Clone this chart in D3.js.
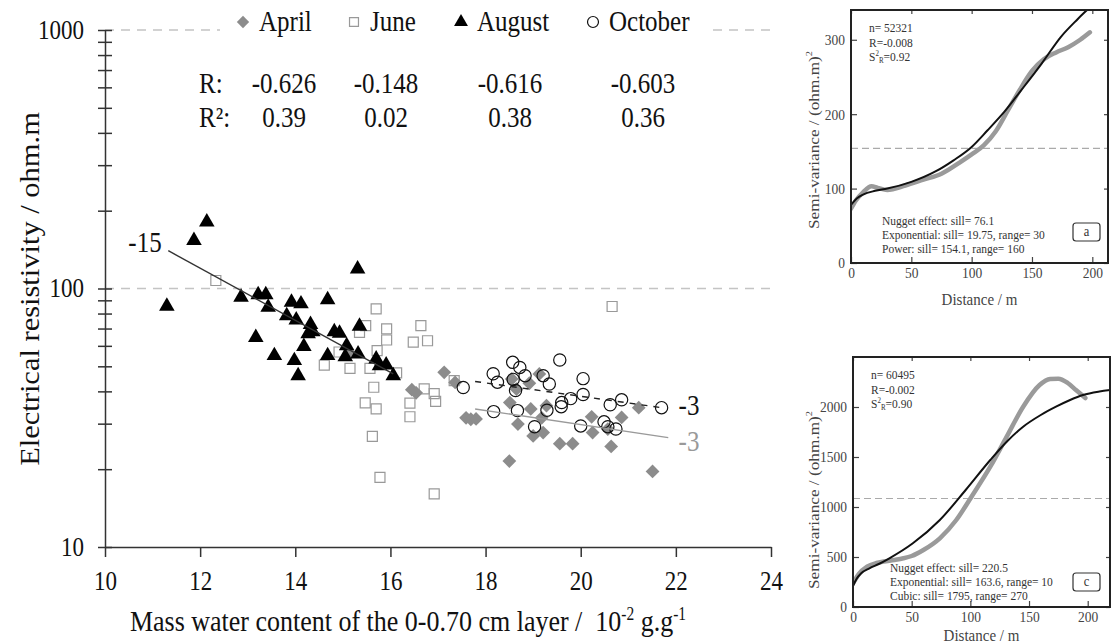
<!DOCTYPE html>
<html>
<head>
<meta charset="utf-8">
<title>Resistivity vs water content</title>
<script src="https://cdn.jsdelivr.net/npm/d3@7/dist/d3.min.js"></script>
<style>
  body { margin: 0; background: #fff; }
  svg text { font-family: "Liberation Serif", "Times New Roman", serif; }
</style>
</head>
<body>
<div id="chart"></div>
<script>
// scatter data: [mass water content (10^-2 g/g), resistivity (ohm.m)]
const aprilPts = [
  [15.15,56],[16.45,40.6],[16.54,39.5],[17.13,47.4],[17.36,43.3],[17.59,31.6],[17.69,31.2],[17.80,31.3],
  [18.51,36.2],[18.55,44.7],[18.65,40.8],[18.68,29.9],[18.50,21.5],[18.92,43],[18.95,34.2],[19.13,46.7],
  [19.00,26.9],[19.21,27.7],[19.28,35.2],[19.18,31.6],[19.56,25.1],[19.83,25.1],[20.23,31.9],[20.25,27.7],
  [20.57,28.6],[20.64,24.5],[20.86,31.7],[21.22,34.6],[21.51,19.6]
];
const junePts = [
  [12.33,107.4],[15.70,83.4],[15.48,71.9],[15.35,67.7],[15.92,69.8],[15.92,63.2],[16.64,71.9],[16.48,62],
  [16.78,62.8],[14.92,56.8],[15.72,57.5],[14.61,50.5],[15.15,49.1],[15.57,49.1],[16.13,47.2],[15.65,41.5],
  [15.47,36.1],[15.70,34.2],[16.71,40.9],[16.92,39.2],[16.95,36.6],[16.41,36],[16.41,31.9],[17.34,44],
  [15.62,26.8],[15.78,18.6],[16.92,16.05],[20.66,85.2]
];
const augustPts = [
  [12.14,180.7],[11.87,153.5],[11.30,85.3],[12.86,92.5],[13.22,94.6],[13.38,94.6],[13.43,84.6],[13.17,64.7],
  [13.56,55],[13.92,88.5],[14.12,87.2],[13.82,78.5],[14.02,75.6],[14.32,72.5],[14.27,66.8],[14.18,59.6],
  [13.98,52.6],[14.06,46],[14.68,90.4],[15.31,119],[15.35,71.4],[14.82,68.1],[14.93,67.1],[15.08,60.1],
  [15.05,54.5],[14.68,55],[15.32,55.8],[15.70,53.4],[15.77,50.3],[15.91,50.6],[16.06,46],[14.37,68]
];
const octoberPts = [
  [17.53,41.4],[18.16,46.8],[18.25,43.4],[18.57,51.8],[18.72,49.5],[18.58,44.5],[18.83,46],[18.63,40.3],
  [19.21,46],[19.34,42.7],[19.56,52.9],[20.05,44.8],[19.60,36.2],[19.59,34.9],[19.79,37.5],[20.05,38.9],
  [20.62,35.5],[20.86,37.1],[21.70,34.6],[18.17,33.4],[18.67,33.7],[19.29,33.8],[19.03,29.2],[20.00,29.4],
  [20.49,30.5],[20.57,29.2],[20.74,28.6]
];

// regression lines, end points
const augustFit = [[11.33,140],[16.06,46.7]];
const aprilFit = [[17.78,34.2],[21.84,26.5]];
const octoberFit = [[17.78,43.7],[21.70,34.6]];

const seriesNames = ["April", "June", "August", "October"];
const corrR = ["-0.626", "-0.148", "-0.616", "-0.603"];
const corrR2 = ["0.39", "0.02", "0.38", "0.36"];
const xTicks = [10, 12, 14, 16, 18, 20, 22, 24];
const yMajor = [10, 100, 1000];

// semivariograms: [distance m, semi-variance]
const semivarAExp = [[0,73],[4,84],[10,95],[17,103],[22,101],[30,98],[45,104],[60,112],[75,120],[90,135],
  [100,146],[110,158],[120,177],[130,205],[140,233],[150,258],[160,274],[170,283],[180,290],[190,300],[198,310]];
const semivarAModel = [[0,78],[5,87],[10,92],[20,97],[30,100],[50,109],[70,123],[85,138],[100,156],[113,178],
  [127,203],[141,232],[158,268],[174,304],[188,328],[200,347],[213,370]];
const semivarCExp = [[0,237],[5,330],[12,403],[20,440],[26,455],[35,470],[43,487],[50,510],[60,570],[74,687],
  [88,870],[101,1103],[117,1403],[131,1703],[145,2003],[159,2220],[168,2280],[175,2283],[183,2240],[190,2170],[198,2090]];
const semivarCModel = [[0,210],[3,280],[7,337],[14,387],[22,430],[31,487],[51,637],[74,870],[96,1170],[117,1470],
  [131,1653],[145,1803],[160,1920],[173,2003],[185,2070],[196,2120],[210,2155],[219,2170]];
const sillA = 154.1;
const sillC = 1085;
const infoA = ["n= 52321", "R=-0.008", "0.92"];
const infoC = ["n= 60495", "R=-0.002", "0.90"];
const modelA = ["Nugget effect: sill= 76.1", "Exponential: sill= 19.75, range= 30", "Power: sill= 154.1, range= 160"];
const modelC = ["Nugget effect: sill= 220.5", "Exponential: sill= 163.6, range= 10", "Cubic: sill= 1795, range= 270"];

const W = 1113, H = 643;
const K = 1.15; // the scan is stretched vertically, text too
const FONT = "'Liberation Serif', 'Times New Roman', serif";

const svg = d3.select("#chart").append("svg").attr("width", W).attr("height", H);

function label(g, px, py, str, size, anchor, fill) {
  return g.append("text")
    .attr("transform", `translate(${px},${py}) scale(1,${K})`)
    .attr("font-family", FONT)
    .attr("font-size", size)
    .attr("text-anchor", anchor || "start")
    .attr("fill", fill || "#111")
    .text(str);
}

function stretchText(sel) {
  sel.selectAll("text")
    .attr("font-family", FONT)
    .attr("transform", `scale(1,${K})`)
    .attr("y", function() { return (+this.getAttribute("y") || 0) / K; });
}

// ---------- main scatter ----------
const x = d3.scaleLinear().domain([10, 24]).range([105, 771]);
const y = d3.scaleLog().domain([10, 1000]).range([547, 30]);

const main = svg.append("g");

// dashed lines at the decades
main.selectAll("line.grid")
  .data([100, 1000])
  .enter().append("line")
  .attr("x1", x(10)).attr("x2", x(24))
  .attr("y1", d => y(d)).attr("y2", d => y(d))
  .attr("stroke", "#c4c4c4").attr("stroke-width", 1.3)
  .attr("stroke-dasharray", "9,7");

const yTickVals = [];
for (let d = 10; d < 1000; d *= 10) for (let k = 1; k < 10; k++) yTickVals.push(d * k);
yTickVals.push(1000);

const gy = main.append("g")
  .attr("transform", `translate(${x(10)},0)`)
  .call(d3.axisLeft(y).tickValues(yTickVals)
    .tickFormat(d => yMajor.includes(d) ? d : "")
    .tickSize(7).tickSizeOuter(0).tickPadding(14));
gy.selectAll(".tick line").attr("x1", 7);
gy.selectAll("line, path").attr("stroke", "#333").attr("stroke-width", 1.5);
gy.selectAll("text").attr("font-size", 23).attr("fill", "#111");
gy.attr("font-family", null);
stretchText(gy);

const gx = main.append("g")
  .attr("transform", `translate(0,${y(10)})`)
  .call(d3.axisBottom(x).tickValues(xTicks).tickSize(10).tickSizeOuter(0).tickPadding(14));
gx.selectAll("line, path").attr("stroke", "#333").attr("stroke-width", 1.5);
gx.selectAll("text").attr("font-size", 23).attr("fill", "#111");
gx.attr("font-family", null);
stretchText(gx);

// axis titles
main.append("text")
  .attr("transform", `translate(39,289) scale(1,${K}) rotate(-90)`)
  .attr("font-family", FONT)
  .attr("text-anchor", "middle").attr("font-size", 26.5).attr("fill", "#111")
  .text("Electrical resistivity / ohm.m");

const xt = main.append("text")
  .attr("transform", `translate(408,631) scale(1,${K})`)
  .attr("font-family", FONT)
  .attr("text-anchor", "middle").attr("font-size", 26).attr("fill", "#111");
xt.append("tspan").text("Mass water content of the 0-0.70 cm layer /\u00a0\u00a010");
xt.append("tspan").attr("font-size", 15.5).attr("dy", -10).text("-2");
xt.append("tspan").attr("dy", 10).text(" g.g");
xt.append("tspan").attr("font-size", 15.5).attr("dy", -10).text("-1");

// markers
const diamond = {
  draw(ctx, size) {
    const r = Math.sqrt(size / 2);
    ctx.moveTo(0, -r); ctx.lineTo(r, 0); ctx.lineTo(0, r); ctx.lineTo(-r, 0); ctx.closePath();
  }
};
const markStyle = {
  April:   { type: diamond, size: 95, fill: "#8c8c8c", stroke: "none" },
  June:    { type: d3.symbolSquare, size: 100, fill: "none", stroke: "#999" },
  August:  { type: d3.symbolTriangle, size: 105, fill: "#000", stroke: "none" },
  October: { type: d3.symbolCircle, size: 118, fill: "none", stroke: "#111" }
};
const seriesPts = { April: aprilPts, June: junePts, August: augustPts, October: octoberPts };

function drawSeries(name) {
  const st = markStyle[name];
  main.append("g").selectAll("path")
    .data(seriesPts[name])
    .enter().append("path")
    .attr("transform", d => `translate(${x(d[0])},${y(d[1])})`)
    .attr("d", d3.symbol().type(st.type).size(st.size))
    .attr("fill", st.fill).attr("stroke", st.stroke).attr("stroke-width", 1.2);
}
["June", "April", "August", "October"].forEach(drawSeries);

// regression lines
const fitLine = d3.line().x(d => x(d[0])).y(d => y(d[1]));
main.append("path").attr("d", fitLine(augustFit)).attr("stroke", "#333").attr("stroke-width", 1.4).attr("fill", "none");
main.append("path").attr("d", fitLine(aprilFit)).attr("stroke", "#9a9a9a").attr("stroke-width", 1.4).attr("fill", "none");
main.append("path").attr("d", fitLine(octoberFit)).attr("stroke", "#222").attr("stroke-width", 1.4)
  .attr("stroke-dasharray", "6,6").attr("fill", "none");

label(main, 145, 252, "-15", 25, "middle");
label(main, 689, 415, "-3", 25, "middle");
label(main, 689, 451, "-3", 25, "middle", "#999");

// legend
main.append("rect").attr("x", 220).attr("y", 8).attr("width", 486).attr("height", 30).attr("fill", "#fff");
const legX = [243, 354, 461, 593];
seriesNames.forEach((name, i) => {
  const st = markStyle[name];
  main.append("path")
    .attr("transform", `translate(${legX[i]},22)`)
    .attr("d", d3.symbol().type(st.type).size(st.size * 0.8))
    .attr("fill", st.fill).attr("stroke", st.stroke).attr("stroke-width", 1.2);
  label(main, legX[i] + 16, 31, name, 25);
});

// correlation table
const colX = [284, 386, 510, 643];
label(main, 199, 93, "R:", 25);
label(main, 199, 127, "R²:", 25);
corrR.forEach((v, i) => label(main, colX[i], 93, v, 25, "middle"));
corrR2.forEach((v, i) => label(main, colX[i], 127, v, 25, "middle"));

// ---------- semivariogram insets ----------
function drawInset(o) {
  const g = svg.append("g");
  const sx = d3.scaleLinear().domain(o.xDom).range([o.left, o.right]);
  const sy = d3.scaleLinear().domain(o.yDom).range([o.bottom, o.top]);

  g.append("clipPath").attr("id", "clip-" + o.tag)
    .append("rect").attr("x", o.left).attr("y", o.top)
    .attr("width", o.right - o.left).attr("height", o.bottom - o.top);

  const axL = g.append("g").attr("transform", `translate(${o.left},0)`)
    .call(d3.axisLeft(sy).tickValues(o.yTicks).tickFormat(d3.format("d"))
      .tickSize(-6).tickSizeOuter(0).tickPadding(6));
  const axB = g.append("g").attr("transform", `translate(0,${o.bottom})`)
    .call(d3.axisBottom(sx).tickValues(o.xTicks).tickFormat(d3.format("d"))
      .tickSize(-6).tickSizeOuter(0).tickPadding(4));
  const axR = g.append("g").attr("transform", `translate(${o.right},0)`)
    .call(d3.axisRight(sy).tickValues(o.yTicks).tickSize(-4).tickSizeOuter(0).tickFormat(""));
  const axT = g.append("g").attr("transform", `translate(0,${o.top})`)
    .call(d3.axisTop(sx).tickValues(o.xTicks).tickSize(-4).tickSizeOuter(0).tickFormat(""));
  [axL, axB, axR, axT].forEach(a => {
    a.select(".domain").remove();
    a.attr("font-family", null);
    a.selectAll("line").attr("stroke", "#444").attr("stroke-width", 1.2);
    a.selectAll("text").attr("font-size", 13.5).attr("fill", "#444");
    stretchText(a);
  });

  // sill line
  g.append("line")
    .attr("x1", o.left).attr("x2", o.right)
    .attr("y1", sy(o.sill)).attr("y2", sy(o.sill))
    .attr("stroke", "#aaa").attr("stroke-width", 1.2).attr("stroke-dasharray", "7,4");

  const ln = d3.line().x(d => sx(d[0])).y(d => sy(d[1])).curve(d3.curveMonotoneX);
  const curves = g.append("g").attr("clip-path", `url(#clip-${o.tag})`);
  curves.append("path").attr("d", ln(o.exp))
    .attr("fill", "none").attr("stroke", "#9a9a9a").attr("stroke-width", 4.5).attr("stroke-linecap", "round");
  curves.append("path").attr("d", ln(o.model))
    .attr("fill", "none").attr("stroke", "#111").attr("stroke-width", 2);

  // frame
  g.append("rect").attr("x", o.left).attr("y", o.top)
    .attr("width", o.right - o.left).attr("height", o.bottom - o.top)
    .attr("fill", "none").attr("stroke", "#222").attr("stroke-width", 2);

  // statistics
  label(g, o.left + 18, o.top + 22, o.info[0], 11.5, "start", "#333");
  label(g, o.left + 18, o.top + 37, o.info[1], 11.5, "start", "#333");
  const s2 = label(g, o.left + 18, o.top + 51, "S", 11.5, "start", "#333");
  s2.append("tspan").attr("font-size", 7).attr("dy", -4).text("2");
  s2.append("tspan").attr("font-size", 7).attr("dy", 6).text("R");
  s2.append("tspan").attr("dy", -2).text("=" + o.info[2]);

  o.models.forEach((t, i) => label(g, o.modelX, o.modelY + i * 14, t, 11.5, "start", "#333"));

  g.append("rect").attr("x", 1073).attr("y", o.boxY).attr("width", 27).attr("height", 18)
    .attr("rx", 3).attr("fill", "#fff").attr("stroke", "#333").attr("stroke-width", 1.2);
  label(g, 1086.5, o.boxY + 13, o.tag, 12.5, "middle", "#333");

  const yt = g.append("text")
    .attr("transform", `translate(819,${o.titleY}) scale(1,${K}) rotate(-90)`)
    .attr("font-family", FONT)
    .attr("text-anchor", "middle").attr("font-size", 15).attr("fill", "#444");
  yt.append("tspan").text("Semi-variance / (ohm.m)");
  yt.append("tspan").attr("font-size", 9).attr("dy", -7).text("2");

  label(g, (o.left + o.right) / 2, o.distY, "Distance / m", 15, "middle", "#444");
}

drawInset({
  tag: "a", left: 851, right: 1108, top: 10, bottom: 263,
  xDom: [0, 213], yDom: [0, 340], xTicks: [0, 50, 100, 150, 200], yTicks: [0, 100, 200, 300],
  exp: semivarAExp, model: semivarAModel, sill: sillA, info: infoA, models: modelA,
  modelX: 882, modelY: 225, boxY: 223, titleY: 140, distY: 305
});
drawInset({
  tag: "c", left: 853, right: 1110, top: 357, bottom: 607,
  xDom: [0, 219], yDom: [0, 2500], xTicks: [0, 50, 100, 150, 200], yTicks: [0, 500, 1000, 1500, 2000],
  exp: semivarCExp, model: semivarCModel, sill: sillC, info: infoC, models: modelC,
  modelX: 890, modelY: 572, boxY: 573, titleY: 500, distY: 641
});
</script>
</body>
</html>
